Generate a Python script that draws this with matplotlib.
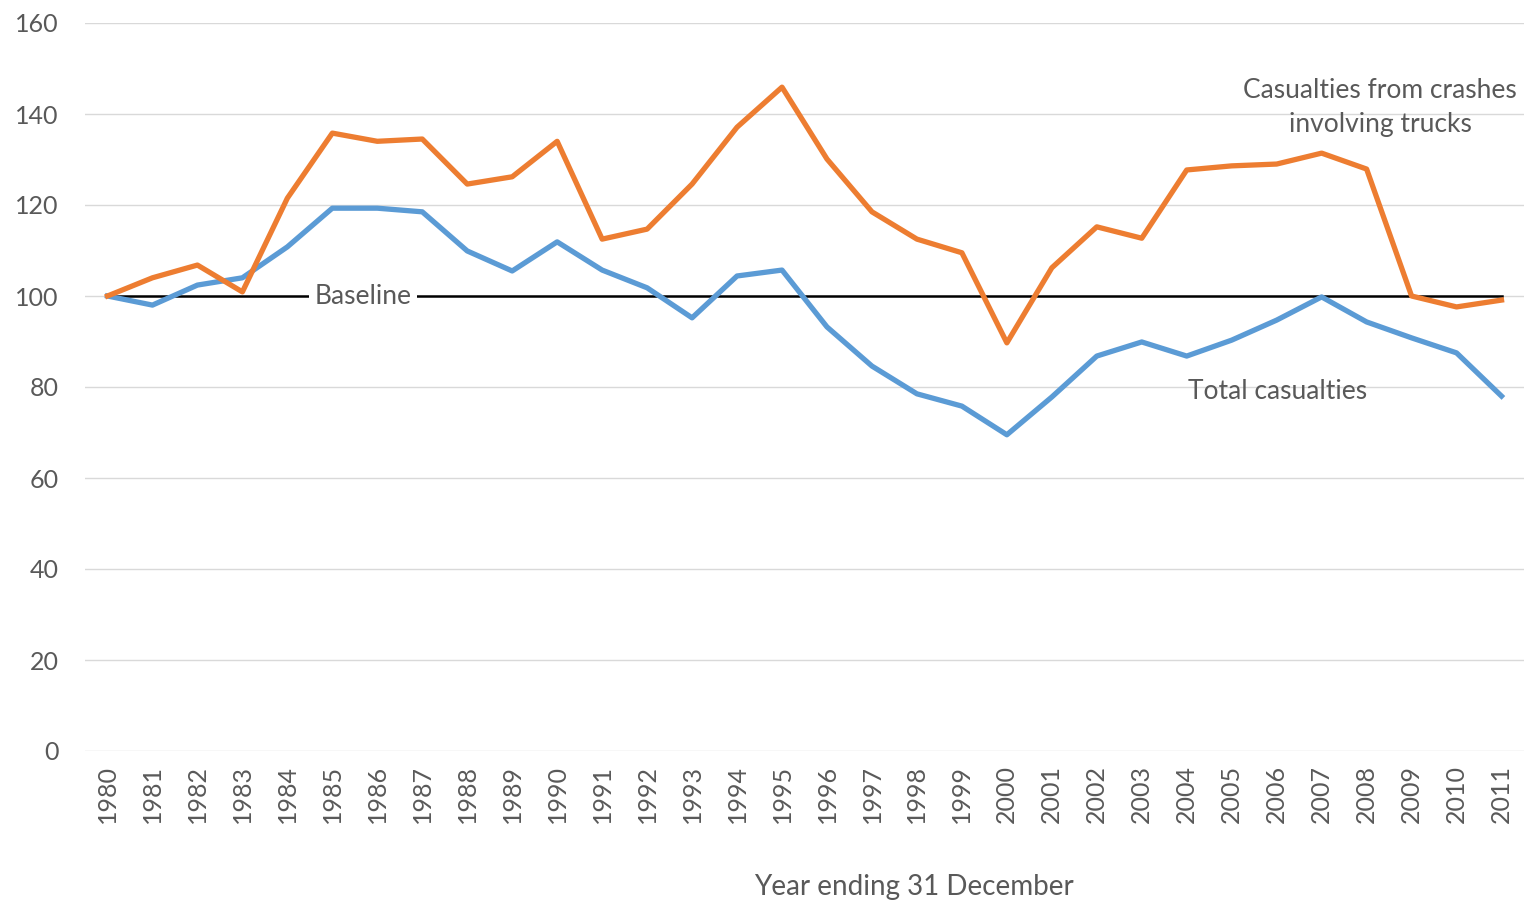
import matplotlib
matplotlib.use("Agg")
import matplotlib.pyplot as plt

years = [str(y) for y in range(1980, 2012)]
trucks = [100, 104, 106.8, 100.9, 121.5, 135.8, 134, 134.5, 124.6, 126.2, 134,
          112.5, 114.7, 124.6, 137.1, 145.9, 130.1, 118.5, 112.5, 109.5, 89.7,
          106.2, 115.2, 112.7, 127.7, 128.6, 129, 131.4, 127.9, 100, 97.6, 99.1]
total = [100, 98, 102.4, 104, 110.8, 119.3, 119.3, 118.5, 109.9, 105.5, 111.9,
         105.7, 101.8, 95.2, 104.4, 105.7, 93.2, 84.6, 78.5, 75.8, 69.5,
         77.8, 86.8, 89.9, 86.8, 90.3, 94.7, 99.8, 94.3, 90.8, 87.5, 78]
baseline = [100] * len(years)
yticks = [0, 20, 40, 60, 80, 100, 120, 140, 160]

plt.rcParams['font.family'] = ['Lato', 'DejaVu Sans']
TXT = '#595959'

fig = plt.figure(figsize=(15.24, 9.02), dpi=100)
ax = fig.add_axes([85/1524, 1 - 751/902, (1524-85)/1524, (751-23)/902])

x = list(range(len(years)))
ax.plot(x, baseline, color='black', lw=1.8, zorder=2)
ax.plot(x, total, color='#5B9BD5', lw=3.8, zorder=3, solid_joinstyle='round')
ax.plot(x, trucks, color='#ED7D31', lw=3.8, zorder=4, solid_joinstyle='round')

ax.set_xlim(-0.5, len(years) - 0.5)
ax.set_ylim(0, 160)
ax.set_yticks(yticks)
ax.set_xticks(x)
ax.set_xticklabels(years, rotation=90)
ax.grid(axis='y', color='#d9d9d9', lw=1)
ax.set_axisbelow(True)
for s in ax.spines.values():
    s.set_visible(False)
ax.tick_params(axis='both', length=0, labelcolor=TXT)
ax.tick_params(axis='y', labelsize=18, pad=19)
ax.tick_params(axis='x', labelsize=18, pad=10)

ax.text(5.68, 100, 'Baseline', ha='center', va='center', fontsize=19, color=TXT,
        bbox=dict(facecolor='white', edgecolor='none', pad=4), zorder=5)
ax.text(28.3, 141.4, 'Casualties from crashes\ninvolving trucks', ha='center',
        va='center', fontsize=19, color=TXT, linespacing=1.45)
ax.text(26.03, 79.1, 'Total casualties', ha='center', va='center', fontsize=19, color=TXT)
fig.text(914/1524, 1 - 887/902, 'Year ending 31 December', ha='center', va='center',
         fontsize=20, color=TXT)

fig.savefig('out.png', dpi=100)
